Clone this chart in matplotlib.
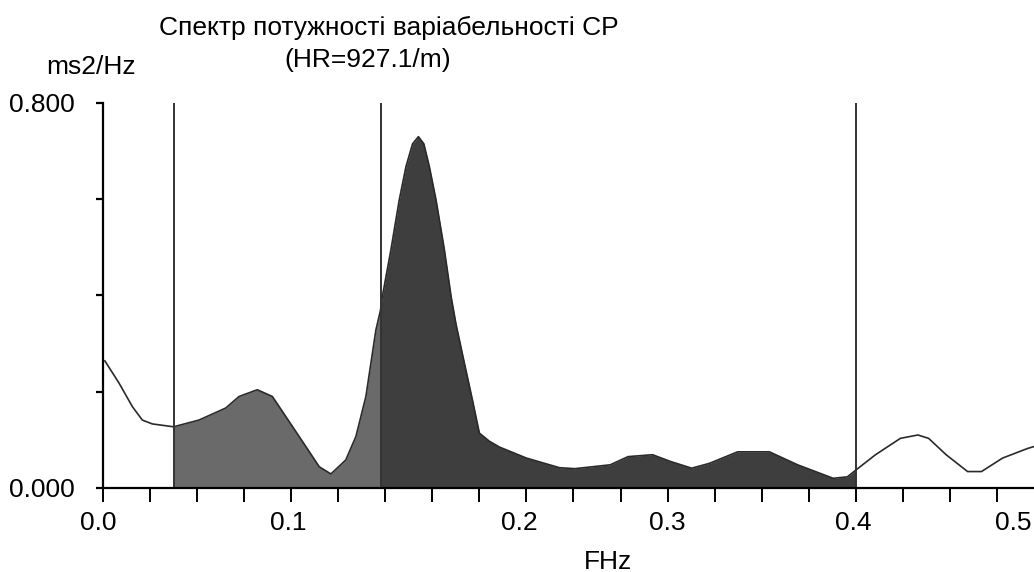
import numpy as np
import matplotlib.pyplot as plt

plt.rcParams['font.family'] = ['Liberation Sans', 'DejaVu Sans']

# spectrum
freq = [0.001, 0.0085, 0.0156, 0.0209, 0.0262, 0.0375, 0.051, 0.0652, 0.0723, 0.082,
        0.090, 0.0972, 0.1078, 0.1149, 0.1211, 0.129, 0.1344, 0.1397, 0.145, 0.1475,
        0.1484, 0.153, 0.1574, 0.161, 0.1645, 0.1676, 0.1705, 0.1734, 0.177, 0.1814,
        0.185, 0.1876, 0.192, 0.1963, 0.2, 0.2053, 0.2106, 0.225, 0.2426, 0.2507,
        0.2695, 0.279, 0.292, 0.3015, 0.3128, 0.3222, 0.3372, 0.3541, 0.3691, 0.388,
        0.3955, 0.4, 0.4105, 0.4237, 0.433, 0.4387, 0.448, 0.4594, 0.4668, 0.478,
        0.4913, 0.4947]
power = [0.264, 0.218, 0.169, 0.141, 0.133, 0.127, 0.141, 0.166, 0.190, 0.204,
         0.190, 0.148, 0.086, 0.044, 0.029, 0.058, 0.107, 0.190, 0.328, 0.370,
         0.397, 0.495, 0.598, 0.668, 0.715, 0.730, 0.715, 0.668, 0.598, 0.495,
         0.397, 0.340, 0.260, 0.183, 0.114, 0.097, 0.085, 0.062, 0.042, 0.040,
         0.048, 0.065, 0.069, 0.055, 0.041, 0.051, 0.075, 0.075, 0.048, 0.020,
         0.023, 0.037, 0.069, 0.103, 0.110, 0.103, 0.069, 0.034, 0.034, 0.062,
         0.082, 0.086]

bands = [0.0375, 0.1475, 0.4]          # VLF/LF, LF/HF, HF end
xtick_labels = ['0.0', '0.1', '0.2', '0.3', '0.4', '0.5']
xtick_label_pos = [-0.0027, 0.0984, 0.2213, 0.3, 0.3984, 0.4835]

freq = np.array(freq)
power = np.array(power)

fig = plt.figure(figsize=(10.34, 5.72), dpi=100)
ax = fig.add_axes([0.0996, 0.147, 0.9004, 0.673])

lf = (freq >= bands[0]) & (freq <= bands[1])
hf = (freq >= bands[1]) & (freq <= bands[2])
ax.fill_between(freq, 0, power, where=lf, color='#6a6a6a', lw=0)
ax.fill_between(freq, 0, power, where=hf, color='#3e3e3e', lw=0)
ax.plot(freq, power, color='#2a2a2a', lw=1.2)

for b in bands:
    ax.axvline(b, color='#333333', lw=1.4)

ax.set_xlim(0, 0.4947)
ax.set_ylim(0, 0.8)

for s in ['top', 'right']:
    ax.spines[s].set_visible(False)
ax.spines['left'].set_linewidth(1.6)
ax.spines['bottom'].set_linewidth(1.6)

ax.set_xticks(np.arange(0, 0.5, 0.025))
ax.set_xticklabels([])
ax.tick_params(axis='x', direction='out', length=10, width=1.4, color='black')
for lab, pos in zip(xtick_labels, xtick_label_pos):
    ax.text(pos, -0.091, lab, transform=ax.get_xaxis_transform(),
            ha='center', va='center', fontsize=19)

ax.set_yticks([0, 0.2, 0.4, 0.6, 0.8])
ax.set_yticklabels(['0.000', '', '', '', '0.800'], fontsize=19)
ax.tick_params(axis='y', direction='out', length=5, width=1.6, pad=15)

fig.text(0.088, 0.883, 'ms2/Hz', ha='center', va='center', fontsize=19)
fig.text(0.376, 0.951, 'Спектр потужності варіабельності СР', ha='center', va='center', fontsize=19)
fig.text(0.356, 0.895, '(HR=927.1/m)', ha='center', va='center', fontsize=19)
fig.text(0.588, 0.0175, 'FHz', ha='center', va='center', fontsize=19)

fig.savefig('out.png', dpi=100)
